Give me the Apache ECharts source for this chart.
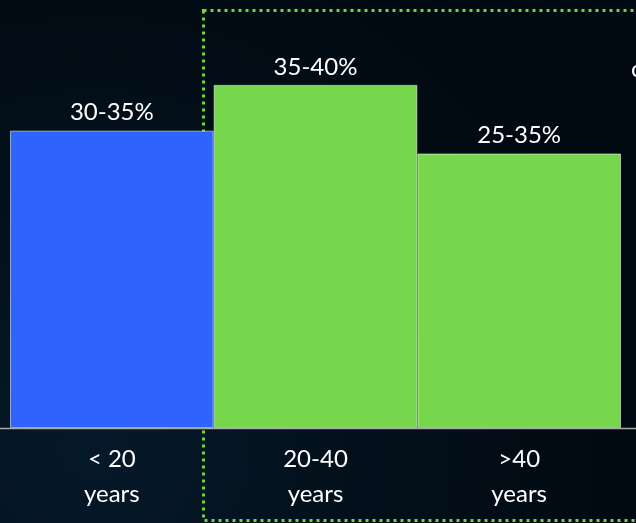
<!DOCTYPE html>
<html>
<head>
<meta charset="utf-8">
<script src="https://cdn.jsdelivr.net/npm/echarts@6/dist/echarts.min.js"></script>
<style>html,body{margin:0;padding:0;background:#020b14;}#c{width:636px;height:523px;}</style>
</head>
<body>
<div id="c"></div>
<script>
var categories = ['< 20\nyears', '20-40\nyears', '>40\nyears'];
var values = [32.5, 37.5, 30];
var valueLabels = ['30-35%', '35-40%', '25-35%'];
var barColors = ['#2e63fe', '#76d64c', '#76d64c'];

var chart = echarts.init(document.getElementById('c'));
chart.setOption({
  backgroundColor: {
    type: 'radial', x: 0.15, y: 0.85, r: 1.0,
    colorStops: [
      {offset: 0, color: '#06192a'},
      {offset: 0.5, color: '#03101b'},
      {offset: 1, color: '#010a12'}
    ]
  },
  animation: false,
  grid: {left: 10, right: 15, top: 62, bottom: 95},
  xAxis: {
    type: 'category',
    data: categories,
    axisLine: {show: false},
    axisTick: {show: false},
    axisLabel: {
      color: '#ffffff', fontFamily: 'Lato', fontSize: 24,
      lineHeight: 35, margin: 14
    }
  },
  yAxis: {
    type: 'value', min: 0, max: 40,
    show: false
  },
  series: [{
    type: 'bar',
    barCategoryGap: '0%',
    data: values.map(function (v, i) {
      return {value: v, itemStyle: {color: barColors[i]}};
    }),
    itemStyle: {borderColor: 'rgba(255,255,255,0.55)', borderWidth: 1},
    label: {
      show: true, position: 'top', distance: 6,
      color: '#ffffff', fontFamily: 'Lato', fontSize: 24,
      formatter: function (p) { return valueLabels[p.dataIndex]; }
    }
  }],
  graphic: [
    {
      type: 'rect', z: 0,
      shape: {x: 203.5, y: 10.5, width: 440, height: 510},
      style: {fill: 'none', stroke: '#6fd63c', lineWidth: 3, lineDash: [3, 4]}
    },
    {
      type: 'line', z: 10,
      shape: {x1: 0, y1: 428.5, x2: 636, y2: 428.5},
      style: {stroke: '#a8a8a8', lineWidth: 1.5}
    },
    {
      type: 'text', z: 10, left: 631, top: 57,
      style: {text: 'c', fill: '#ffffff', font: '24px Lato'}
    }
  ]
});
</script>
</body>
</html>
